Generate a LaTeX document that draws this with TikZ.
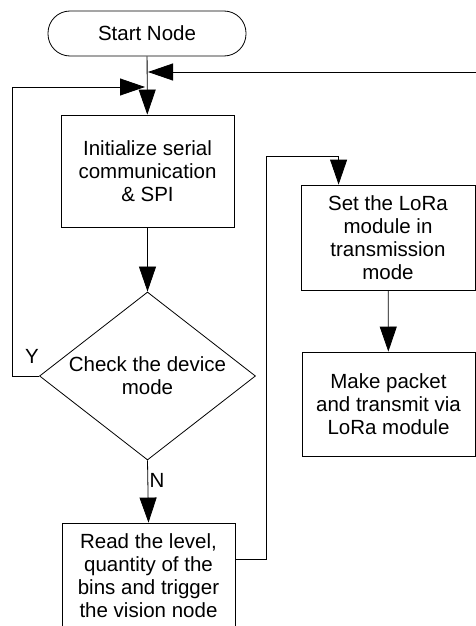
\documentclass[tikz,border=0pt]{standalone}
\usepackage{fontspec}
\setmainfont{Liberation Sans}
\usetikzlibrary{arrows.meta,shapes.geometric}
\begin{document}
\begin{tikzpicture}[x=1pt,y=-1pt,
  line width=0.8pt,
  every node/.style={font=\fontsize{20.5}{23}\selectfont},
  box/.style={draw,rectangle,align=center,inner sep=0pt},
  arr/.style={-{Triangle[length=25pt,width=17pt]}},
  lbl/.style={inner sep=0pt}]
\useasboundingbox (0,0) rectangle (476,626);
\clip (0,0) rectangle (476,626);
\node[box,rounded corners=22pt,minimum width=198pt,minimum height=45pt] (start) at (147,33.5) {Start Node};
\node[box,minimum width=173pt,minimum height=112pt] (init) at (147.5,171) {Initialize serial\\communication\\\& SPI};
\node[draw,diamond,shape aspect=1.2857,inner sep=0pt,minimum width=216pt,minimum height=168pt,align=center] (dec) at (147.5,376) {Check the device\\mode};
\node[box,minimum width=173pt,minimum height=106pt] (read) at (148.5,576) {Read the level,\\quantity of the\\bins and trigger\\the vision node};
\node[box,minimum width=174pt,minimum height=105pt] (lora) at (388,237.5) {Set the LoRa\\module in\\transmission\\mode};
\node[box,minimum width=173pt,minimum height=104pt] (pkt) at (388.5,404) {Make packet\\and transmit via\\LoRa module};
\coordinate (jr) at (148,72);
\coordinate (jl) at (145,87);
\node[lbl] (ylab) at (32,356) {Y};
\node[lbl] (nlab) at (157,480) {N};
\draw[arr] (start) -- (init);
\draw[arr] (pkt.east) -- ++(20,0) |- (jr);
\draw[arr] (dec.west) -- ++(-27,0) |- (jl);
\draw[arr] (init) -- (dec);
\draw[arr] (dec.south) -- (read.north);
\draw[arr] ([yshift=-37pt]read.north east) -- ++(31,0) |- ([xshift=38pt,yshift=28pt]lora.north west) -- ([xshift=38pt]lora.north west);
\draw[arr] (lora) -- (pkt);
\end{tikzpicture}
\end{document}
